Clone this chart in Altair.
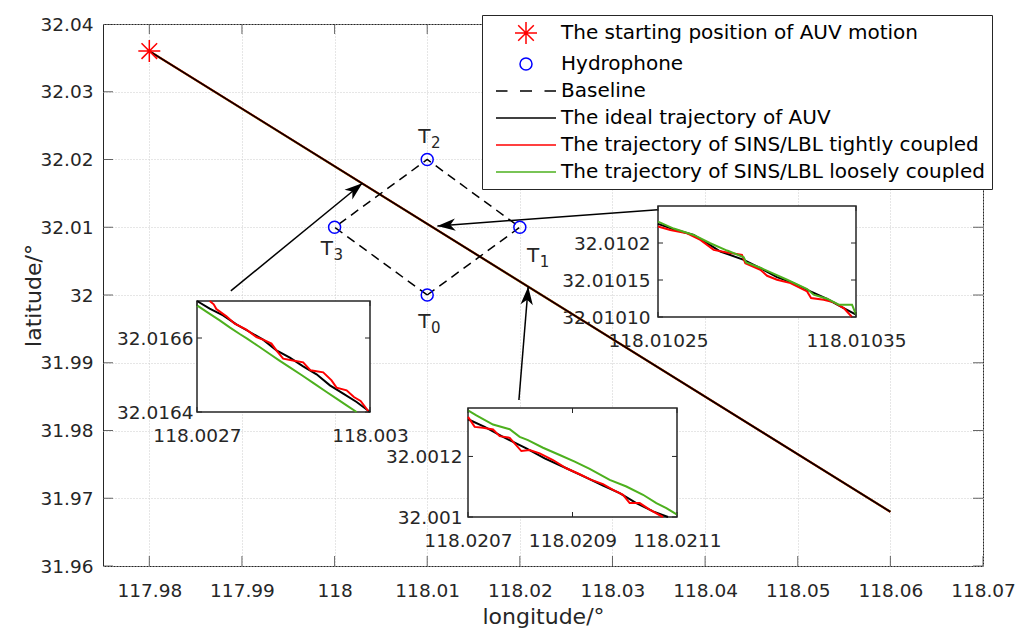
import math
import altair as alt
import pandas as pd

# ------------------------------------------------------------------ data
X_TICKS = [117.98, 117.99, 118.0, 118.01, 118.02, 118.03, 118.04, 118.05, 118.06, 118.07]
X_TICK_LABELS = ["117.98", "117.99", "118", "118.01", "118.02", "118.03", "118.04", "118.05", "118.06", "118.07"]
Y_TICKS = [31.96, 31.97, 31.98, 31.99, 32.0, 32.01, 32.02, 32.03, 32.04]
Y_TICK_LABELS = ["31.96", "31.97", "31.98", "31.99", "32", "32.01", "32.02", "32.03", "32.04"]
X_DOMAIN = [117.975, 118.07]
Y_DOMAIN = [31.96, 32.04]

SERIES = [
    "The starting position of AUV motion",
    "Hydrophone",
    "Baseline",
    "The ideal trajectory of AUV",
    "The trajectory of SINS/LBL tightly coupled",
    "The trajectory of SINS/LBL loosely coupled",
]

START_LON = [117.98]
START_LAT = [32.036]

HYD_NAMES = ["T0", "T1", "T2", "T3"]
HYD_MAIN = ["T", "T", "T", "T"]
HYD_SUB = ["0", "1", "2", "3"]
HYD_LON = [118.01, 118.02, 118.01, 118.00]
HYD_LAT = [32.00, 32.01, 32.02, 32.01]

BASE_LON = [118.01, 118.02, 118.01, 118.00, 118.01]
BASE_LAT = [32.00, 32.01, 32.02, 32.01, 32.00]

IDEAL_LON = [117.98, 118.06]
IDEAL_LAT = [32.036, 31.968]
TIGHT_LON = [117.98, 118.06]
TIGHT_LAT = [32.036, 31.968]
LOOSE_LON = [117.98, 118.06]
LOOSE_LAT = [32.036, 31.968]

ARROW_FROM_LON = [117.9888, 118.0349, 118.0199]
ARROW_FROM_LAT = [32.0006, 32.0126, 31.9845]
ARROW_TO_LON = [118.0030, 118.0111, 118.0209]
ARROW_TO_LAT = [32.0165, 32.0102, 32.0012]

# inset 1 (near 118.0028)
IN1_XDOM = [118.0027, 118.0030]
IN1_YDOM = [32.0164, 32.0167]
IN1_XTICKS = [118.0027, 118.003]
IN1_XLABELS = ["118.0027", "118.003"]
IN1_YTICKS = [32.0164, 32.0166]
IN1_YLABELS = ["32.0164", "32.0166"]
IN1_IDEAL_LON = [118.0027000, 118.0027220, 118.0027452, 118.0027683, 118.0027915, 118.0028146, 118.0028378,
                 118.0028610, 118.0028841, 118.0029073, 118.0029305, 118.0029536, 118.0029768, 118.0030000]
IN1_IDEAL_LAT = [32.0167000, 32.0166793, 32.0166613, 32.0166369, 32.0166162, 32.0165955, 32.0165667,
                 32.0165468, 32.0165234, 32.0165018, 32.0164721, 32.0164496, 32.0164270, 32.0164000]
IN1_TIGHT_LON = [118.0027220, 118.0027290, 118.0027336, 118.0027510, 118.0027654, 118.0027857, 118.0028031,
                 118.0028175, 118.0028291, 118.0028390, 118.0028494, 118.0028639, 118.0028841, 118.0028969,
                 118.0029189, 118.0029333, 118.0029420, 118.0029594, 118.0029721, 118.0029837, 118.0029970]
IN1_TIGHT_LAT = [32.0167000, 32.0166910, 32.0166784, 32.0166586, 32.0166387, 32.0166225, 32.0166027,
                 32.0165937, 32.0165847, 32.0165640, 32.0165441, 32.0165396, 32.0165342, 32.0165126,
                 32.0165072, 32.0164856, 32.0164658, 32.0164586, 32.0164405, 32.0164297, 32.0164027]
IN1_LOOSE_LON = [118.0027000, 118.0027162, 118.0027394, 118.0027567, 118.0027741, 118.0027869, 118.0028060,
                 118.0028262, 118.0028424, 118.0028610, 118.0028812, 118.0029027, 118.0029247, 118.0029420,
                 118.0029594, 118.0029768]
IN1_LOOSE_LAT = [32.0166883, 32.0166712, 32.0166477, 32.0166288, 32.0166108, 32.0165982, 32.0165784,
                 32.0165568, 32.0165396, 32.0165207, 32.0165000, 32.0164775, 32.0164541, 32.0164360,
                 32.0164180, 32.0164000]

# inset 2 (near 118.0209)
IN2_XDOM = [118.0207, 118.0211]
IN2_YDOM = [32.0010, 32.00136]
IN2_XTICKS = [118.0207, 118.0209, 118.0211]
IN2_XLABELS = ["118.0207", "118.0209", "118.0211"]
IN2_YTICKS = [32.001, 32.0012]
IN2_YLABELS = ["32.001", "32.0012"]
IN2_IDEAL_LON = [118.0207000, 118.0207319, 118.0207670, 118.0208117, 118.0208467, 118.0208882, 118.0209265,
                 118.0209584, 118.0209903, 118.0210222, 118.0210541, 118.0210828]
IN2_IDEAL_LAT = [32.0013228, 32.0012976, 32.0012648, 32.0012265, 32.0011937, 32.0011609, 32.0011303,
                 32.0011040, 32.0010788, 32.0010460, 32.0010187, 32.0010000]
IN2_TIGHT_LON = [118.0207000, 118.0207128, 118.0207287, 118.0207479, 118.0207606, 118.0207798, 118.0208021,
                 118.0208180, 118.0208372, 118.0208627, 118.0208882, 118.0209137, 118.0209361, 118.0209584,
                 118.0209775, 118.0209967, 118.0210094, 118.0210286, 118.0210477, 118.0210732]
IN2_TIGHT_LAT = [32.0013305, 32.0012976, 32.0012944, 32.0012889, 32.0012670, 32.0012615, 32.0012178,
                 32.0012211, 32.0012101, 32.0011882, 32.0011609, 32.0011412, 32.0011226, 32.0011084,
                 32.0010898, 32.0010734, 32.0010460, 32.0010460, 32.0010241, 32.0010000]
IN2_LOOSE_LON = [118.0207000, 118.0207160, 118.0207479, 118.0207798, 118.0207989, 118.0208148, 118.0208436,
                 118.0208755, 118.0209042, 118.0209329, 118.0209712, 118.0210031, 118.0210350, 118.0210605,
                 118.0210796, 118.0211000]
IN2_LOOSE_LAT = [32.0013523, 32.0013359, 32.0013053, 32.0012900, 32.0012648, 32.0012539, 32.0012287,
                 32.0012047, 32.0011828, 32.0011587, 32.0011226, 32.0011007, 32.0010734, 32.0010460,
                 32.0010296, 32.0010077]

# inset 3 (near 118.0103)
IN3_XDOM = [118.01025, 118.01035]
IN3_YDOM = [32.0101, 32.01025]
IN3_XTICKS = [118.01025, 118.01035]
IN3_XLABELS = ["118.01025", "118.01035"]
IN3_YTICKS = [32.0101, 32.01015, 32.0102]
IN3_YLABELS = ["32.01010", "32.01015", "32.0102"]
IN3_IDEAL_LON = [118.0102500, 118.0102579, 118.0102680, 118.0102748, 118.0102815, 118.0102933, 118.0103017,
                 118.0103101, 118.0103185, 118.0103270, 118.0103354, 118.0103438, 118.0103500]
IN3_IDEAL_LAT = [32.0102258, 32.0102186, 32.0102109, 32.0101997, 32.0101885, 32.0101773, 32.0101660,
                 32.0101539, 32.0101458, 32.0101346, 32.0101243, 32.0101121, 32.0101031]
IN3_TIGHT_LON = [118.0102500, 118.0102562, 118.0102647, 118.0102714, 118.0102781, 118.0102849, 118.0102924,
                 118.0102941, 118.0103017, 118.0103051, 118.0103101, 118.0103169, 118.0103253, 118.0103273,
                 118.0103337, 118.0103388, 118.0103438, 118.0103480]
IN3_TIGHT_LAT = [32.0102222, 32.0102177, 32.0102132, 32.0102042, 32.0101907, 32.0101871, 32.0101840,
                 32.0101728, 32.0101638, 32.0101557, 32.0101503, 32.0101458, 32.0101346, 32.0101256,
                 32.0101234, 32.0101198, 32.0101121, 32.0101000]
IN3_LOOSE_LON = [118.0102500, 118.0102579, 118.0102680, 118.0102764, 118.0102849, 118.0102933, 118.0102945,
                 118.0103017, 118.0103152, 118.0103253, 118.0103286, 118.0103354, 118.0103413, 118.0103480,
                 118.0103500]
IN3_LOOSE_LAT = [32.0102289, 32.0102195, 32.0102109, 32.0101997, 32.0101898, 32.0101808, 32.0101737,
                 32.0101665, 32.0101503, 32.0101377, 32.0101301, 32.0101247, 32.0101166, 32.0101166,
                 32.0101031]

# ------------------------------------------------------------------ styles / layout
W, H = 880, 542
FONT = "DejaVu Sans"
AX = "#262626"
RED = "#ff0000"
BLUE = "#0000ff"
GREEN = "#4db01e"
SERIES_COLORS = [RED, BLUE, "#000000", "#000000", RED, GREEN]
STAR = "M0,-1.1L0,1.1M-1.1,0L1.1,0M-0.78,-0.78L0.78,0.78M0.78,-0.78L-0.78,0.78"
CIRCLE = "M-0.6,0A0.6,0.6,0,1,1,0.6,0A0.6,0.6,0,1,1,-0.6,0Z"
DASHED = "M-3,0L-1.85,0M-0.6,0L0.6,0M1.85,0L3,0"
SOLID = "M-3,0L3,0"
SERIES_SHAPES = [STAR, CIRCLE, DASHED, SOLID, SOLID, SOLID]
ARROW_HEAD = "M0,0L0.55,1.6L0,1.15L-0.55,1.6Z"
# pixel offset of the centre of each "T_k" label from its hydrophone
LABEL_OFFSETS = {"T0": (2, 27), "T1": (18, 29), "T2": (2, -23), "T3": (-3, 22)}
T_SIZE, SUB_SIZE = 20, 15

# inset geometry (pixels inside plot area)
IN1_XR, IN1_YR = [94, 267], [388, 277]
IN2_XR, IN2_YR = [365, 574], [493, 384]
IN3_XR, IN3_YR = [555, 753], [293, 182]


def label_expr(vals, labels):
    expr = "''"
    for v, l in reversed(list(zip(vals, labels))):
        expr = f"abs(datum.value - ({v!r})) < 1e-9 ? '{l}' : ({expr})"
    return expr


def line_df(lons, lats):
    return pd.DataFrame({"lon": lons, "lat": lats, "idx": list(range(len(lons)))})


# ------------------------------------------------------------------ main panel
X_SCALE = alt.Scale(domain=X_DOMAIN, nice=False, zero=False)
Y_SCALE = alt.Scale(domain=Y_DOMAIN, nice=False, zero=False)
X_AXIS = alt.Axis(
    values=X_TICKS, labelExpr=label_expr(X_TICKS, X_TICK_LABELS), title="longitude/°",
    grid=True, gridColor="#cccccc", gridDash=[1, 2], gridWidth=1, ticks=False, domain=False,
    labelPadding=15, labelFont=FONT, labelFontSize=18.5, labelColor=AX, labelFlush=False,
    labelOverlap=False, titleFont=FONT, titleFontSize=22, titleFontWeight="normal",
    titleColor=AX, titleY=50, titleBaseline="middle",
)
Y_AXIS = alt.Axis(
    values=Y_TICKS, labelExpr=label_expr(Y_TICKS, Y_TICK_LABELS), title="latitude/°",
    grid=True, gridColor="#cccccc", gridDash=[1, 2], gridWidth=1, ticks=False, domain=False,
    labelPadding=10, labelFont=FONT, labelFontSize=18.5, labelColor=AX, labelFlush=False,
    labelOverlap=False, titleFont=FONT, titleFontSize=22, titleFontWeight="normal",
    titleColor=AX, titleAngle=270, titleX=-70, titleY=H / 2, titleAlign="center",
    titleBaseline="middle",
)
x_main = alt.X("lon:Q", scale=X_SCALE, axis=X_AXIS)
y_main = alt.Y("lat:Q", scale=Y_SCALE, axis=Y_AXIS)

traj = []
for lons, lats, col, sw in [(LOOSE_LON, LOOSE_LAT, GREEN, 2.2), (TIGHT_LON, TIGHT_LAT, RED, 2.0),
                            (IDEAL_LON, IDEAL_LAT, "#000000", 1.6)]:
    traj.append(alt.Chart(line_df(lons, lats)).mark_line(color=col, strokeWidth=sw).encode(
        x=x_main, y=y_main, order="idx:Q"))

baseline = alt.Chart(line_df(BASE_LON, BASE_LAT)).mark_line(
    color="#000000", strokeWidth=1.5, strokeDash=[9, 6]).encode(x=x_main, y=y_main, order="idx:Q")

px_lon = W / (X_DOMAIN[1] - X_DOMAIN[0])
px_lat = H / (Y_DOMAIN[1] - Y_DOMAIN[0])
arr = pd.DataFrame({"lon": ARROW_FROM_LON, "lat": ARROW_FROM_LAT, "lon2": ARROW_TO_LON, "lat2": ARROW_TO_LAT})
arr["angle"] = [
    math.degrees(math.atan2((b - a) * px_lon, (d - c) * px_lat)) % 360
    for a, b, c, d in zip(arr["lon"], arr["lon2"], arr["lat"], arr["lat2"])
]
arrow_shaft = alt.Chart(arr).mark_rule(color="#000000", strokeWidth=1.5).encode(
    x=x_main, y=y_main, x2="lon2:Q", y2="lat2:Q")
arrow_head = alt.Chart(arr).mark_point(shape=ARROW_HEAD, filled=True, size=506, color="#000000",
                                       opacity=1, strokeWidth=0).encode(
    x=alt.X("lon2:Q", scale=X_SCALE, axis=X_AXIS),
    y=alt.Y("lat2:Q", scale=Y_SCALE, axis=Y_AXIS),
    angle=alt.Angle("angle:Q", scale=None))

legend = alt.Legend(
    orient="none", legendX=379, legendY=-9, title=None, symbolSize=400, symbolStrokeWidth=1.5,
    symbolOffset=26, labelOffset=24, rowPadding=6, padding=7, fillColor="white", strokeColor=AX,
    labelFont=FONT, labelFontSize=20, labelLimit=1000, labelColor="#000000", symbolOpacity=1,
)
hyd_pts = pd.DataFrame({"lon": HYD_LON, "lat": HYD_LAT, "series": [SERIES[1]] * len(HYD_LON)})
points = alt.Chart(hyd_pts).mark_point(filled=False, size=400, strokeWidth=1.5, opacity=1).encode(
    x=x_main, y=y_main,
    shape=alt.Shape("series:N", scale=alt.Scale(domain=SERIES, range=SERIES_SHAPES), legend=legend),
    color=alt.Color("series:N", scale=alt.Scale(domain=SERIES, range=SERIES_COLORS), legend=legend),
)
start = alt.Chart(pd.DataFrame({"lon": START_LON, "lat": START_LAT})).mark_point(
    shape=STAR, filled=False, size=400, strokeWidth=1.5, opacity=1, color=RED).encode(x=x_main, y=y_main)

hyd = pd.DataFrame({"lon": HYD_LON, "lat": HYD_LAT, "name": HYD_NAMES, "main": HYD_MAIN, "sub": HYD_SUB})
labels = []
t_w = 0.611 * T_SIZE
s_w = 0.636 * SUB_SIZE
for nm in HYD_NAMES:
    cx, cy = LABEL_OFFSETS[nm]
    split = cx - (t_w + s_w) / 2 + t_w
    base = alt.Chart(hyd).transform_filter(alt.datum.name == nm)
    labels.append(base.mark_text(font=FONT, fontSize=T_SIZE, color=AX, dx=split, dy=cy,
                                 align="right", baseline="middle").encode(x=x_main, y=y_main, text="main:N"))
    labels.append(base.mark_text(font=FONT, fontSize=SUB_SIZE, color=AX, dx=split + 0.5, dy=cy + 6,
                                 align="left", baseline="middle").encode(x=x_main, y=y_main, text="sub:N"))

xt = pd.DataFrame({"lon": X_TICKS})
yt = pd.DataFrame({"lat": Y_TICKS})
ticks = [
    alt.Chart(xt).mark_tick(orient="vertical", size=20, thickness=1, color=AX, clip=True).encode(
        x=x_main, y=alt.value(H)),
    alt.Chart(xt).mark_tick(orient="vertical", size=20, thickness=1, color=AX, clip=True).encode(
        x=x_main, y=alt.value(0)),
    alt.Chart(yt).mark_tick(orient="horizontal", size=20, thickness=1, color=AX, clip=True).encode(
        y=y_main, x=alt.value(0)),
    alt.Chart(yt).mark_tick(orient="horizontal", size=20, thickness=1, color=AX, clip=True).encode(
        y=y_main, x=alt.value(W)),
]

main = alt.layer(*traj, baseline, arrow_shaft, arrow_head, points, start, *labels, *ticks)


# ------------------------------------------------------------------ insets
def inset(xdom, ydom, xr, yr, xticks, xlabels, yticks, ylabels, ypad, series):
    ax_common = dict(grid=False, ticks=False, domain=False, title=None, labelFont=FONT,
                     labelFontSize=18.5, labelColor=AX, labelFlush=False, labelOverlap=False)
    X = alt.X("lon:Q", scale=alt.Scale(domain=xdom, range=xr, nice=False, zero=False),
              axis=alt.Axis(orient="bottom", offset=yr[0] - H, values=xticks,
                            labelExpr=label_expr(xticks, xlabels), labelPadding=14, **ax_common))
    Y = alt.Y("lat:Q", scale=alt.Scale(domain=ydom, range=yr, nice=False, zero=False),
              axis=alt.Axis(orient="left", offset=-xr[0], values=yticks,
                            labelExpr=label_expr(yticks, ylabels), labelPadding=ypad, **ax_common))
    box_df = pd.DataFrame({"lon": [xdom[0]], "lon2": [xdom[1]], "lat": [ydom[0]], "lat2": [ydom[1]]})
    box = alt.Chart(box_df).mark_rect(fill="white", stroke=AX, strokeWidth=1.5).encode(
        x=X, x2="lon2:Q", y=Y, y2="lat2:Q")
    layers = [box]
    for lons, lats, col in series:
        layers.append(alt.Chart(line_df(lons, lats)).mark_line(color=col, strokeWidth=2).encode(
            x=X, y=Y, order="idx:Q"))
    xtd = pd.DataFrame({"lon": xticks})
    ytd = pd.DataFrame({"lat": yticks})
    layers += [
        alt.Chart(xtd).mark_rule(color=AX, strokeWidth=1).encode(x=X, y=alt.value(yr[0]), y2=alt.value(yr[0] - 5)),
        alt.Chart(xtd).mark_rule(color=AX, strokeWidth=1).encode(x=X, y=alt.value(yr[1]), y2=alt.value(yr[1] + 5)),
        alt.Chart(ytd).mark_rule(color=AX, strokeWidth=1).encode(y=Y, x=alt.value(xr[0]), x2=alt.value(xr[0] + 5)),
        alt.Chart(ytd).mark_rule(color=AX, strokeWidth=1).encode(y=Y, x=alt.value(xr[1]), x2=alt.value(xr[1] - 5)),
    ]
    return alt.layer(*layers)


in1 = inset(IN1_XDOM, IN1_YDOM, IN1_XR, IN1_YR, IN1_XTICKS, IN1_XLABELS, IN1_YTICKS, IN1_YLABELS, 4,
            [(IN1_IDEAL_LON, IN1_IDEAL_LAT, "#000000"), (IN1_TIGHT_LON, IN1_TIGHT_LAT, RED),
             (IN1_LOOSE_LON, IN1_LOOSE_LAT, GREEN)])
in2 = inset(IN2_XDOM, IN2_YDOM, IN2_XR, IN2_YR, IN2_XTICKS, IN2_XLABELS, IN2_YTICKS, IN2_YLABELS, 6,
            [(IN2_IDEAL_LON, IN2_IDEAL_LAT, "#000000"), (IN2_TIGHT_LON, IN2_TIGHT_LAT, RED),
             (IN2_LOOSE_LON, IN2_LOOSE_LAT, GREEN)])
in3 = inset(IN3_XDOM, IN3_YDOM, IN3_XR, IN3_YR, IN3_XTICKS, IN3_XLABELS, IN3_YTICKS, IN3_YLABELS, 8,
            [(IN3_IDEAL_LON, IN3_IDEAL_LAT, "#000000"), (IN3_TIGHT_LON, IN3_TIGHT_LAT, RED),
             (IN3_LOOSE_LON, IN3_LOOSE_LAT, GREEN)])

chart = alt.layer(main, in1, in2, in3).resolve_scale(
    x="independent", y="independent"
).properties(
    width=W, height=H,
    autosize=alt.AutoSizeParams(type="none"),
    padding={"left": 95, "top": 16, "right": 33, "bottom": 78},
    background="white",
).configure_view(stroke=AX, strokeWidth=1)

chart.save("out.html", embed_options={"renderer": "svg", "actions": False})
